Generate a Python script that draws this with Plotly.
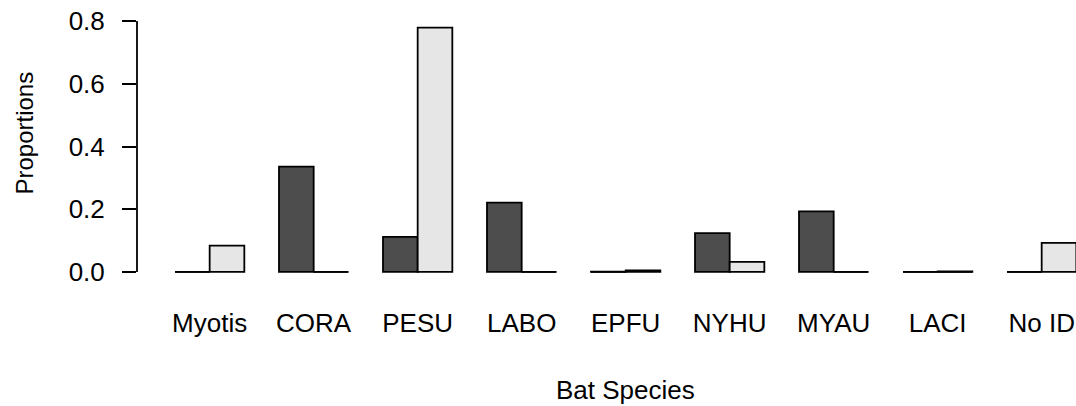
import plotly.graph_objects as go

categories = ["Myotis", "CORA", "PESU", "LABO", "EPFU", "NYHU", "MYAU", "LACI", "No ID"]
dark_vals = [0.0, 0.336, 0.112, 0.221, 0.001, 0.124, 0.193, 0.0, 0.0]
light_vals = [0.084, 0.0, 0.779, 0.0, 0.005, 0.032, 0.0, 0.002, 0.093]
y_ticks = [0.0, 0.2, 0.4, 0.6, 0.8]
y_tick_labels = ["0.0", "0.2", "0.4", "0.6", "0.8"]

FONT = "Liberation Sans, Arial, sans-serif"
DARK = "#4D4D4D"
LIGHT = "#E6E6E6"

# R barplot(beside=TRUE) layout: each group = 2 bars of width 1 plus 1 unit space
n = len(categories)
dark_x = [1.5 + 3 * i for i in range(n)]
light_x = [2.5 + 3 * i for i in range(n)]
group_centers = [2 + 3 * i for i in range(n)]

fig = go.Figure()
fig.add_trace(go.Bar(x=dark_x, y=dark_vals, width=1.0, marker=dict(color=DARK, line=dict(color="black", width=1.8)),
                     showlegend=False, hoverinfo="skip"))
fig.add_trace(go.Bar(x=light_x, y=light_vals, width=1.0, marker=dict(color=LIGHT, line=dict(color="black", width=1.8)),
                     showlegend=False, hoverinfo="skip"))

# zero-height bars appear in R as flat outlines on the baseline
zx, zy = [], []
for xs, vals in ((dark_x, dark_vals), (light_x, light_vals)):
    for xc, v in zip(xs, vals):
        if v < 0.004:
            zx += [xc - 0.5, xc + 0.5, None]
            zy += [0, 0, None]
fig.add_trace(go.Scatter(x=zx, y=zy, mode="lines", line=dict(color="black", width=1.8),
                         showlegend=False, hoverinfo="skip", cliponaxis=False))

fig.update_layout(
    width=1076, height=406,
    margin=dict(l=137, r=0, t=11, b=124),
    plot_bgcolor="white", paper_bgcolor="white",
    font=dict(family=FONT, color="black", size=26),
    barmode="overlay",
    hovermode=False,
    xaxis=dict(range=[-0.096, 26.99], showgrid=False, zeroline=False, showline=False,
               tickmode="array", tickvals=group_centers, ticktext=categories, ticks="",
               tickfont=dict(size=26), ticklabelstandoff=23, ticklabeloverflow="allow"),
    yaxis=dict(range=[-0.032, 0.832], showgrid=False, zeroline=False, showline=False,
               tickmode="array", tickvals=y_ticks, ticktext=y_tick_labels,
               ticks="outside", ticklen=14, tickwidth=1.8, tickcolor="black",
               tickfont=dict(size=26), ticklabelstandoff=12, ticklabeloverflow="allow"),
    shapes=[dict(type="line", xref="paper", yref="y", x0=0, x1=0, y0=y_ticks[0], y1=y_ticks[-1],
                 line=dict(color="black", width=1.8))],
    annotations=[
        dict(text="Bat Species", xref="x", yref="paper", x=14, y=0, yanchor="middle", xanchor="center",
             yshift=-108, showarrow=False, font=dict(size=26)),
        dict(text="Proportions", xref="paper", yref="y", x=-0.1198, y=0.443, textangle=-90,
             xanchor="center", yanchor="middle", showarrow=False, font=dict(size=24)),
    ],
)

fig.write_html("out.html", config={"displayModeBar": False},
               post_script="document.body.style.margin='0';document.body.style.overflow='hidden';")
